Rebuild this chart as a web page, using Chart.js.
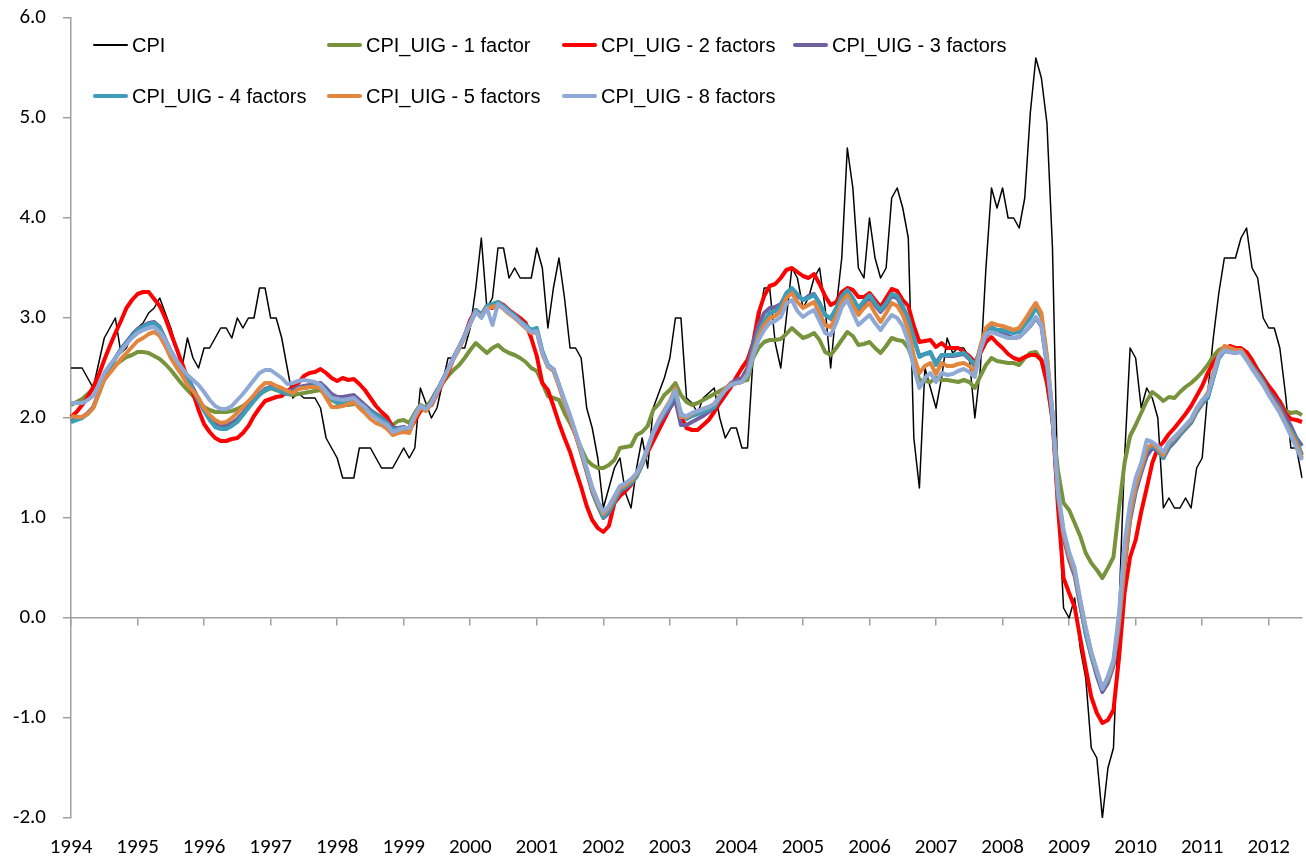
<!DOCTYPE html>
<html>
<head>
<meta charset="utf-8">
<title>CPI and CPI_UIG</title>
<script src="https://cdn.jsdelivr.net/npm/chart.js@4.4.1/dist/chart.umd.min.js"></script>
<style>
  html, body { margin: 0; padding: 0; background: #fff; }
  #wrap { position: relative; width: 1306px; height: 866px; }
  #legend { position: absolute; left: 0; top: 0; font-family: "Liberation Sans", Arial, sans-serif; font-size: 20px; color: #000; }
  .item { position: absolute; height: 24px; display: flex; align-items: center; white-space: nowrap; }
  .swatch { width: 35px; margin-right: 4px; border-radius: 2px; }
</style>
</head>
<body>
<div id="wrap">
  <canvas id="chart" width="1306" height="866"></canvas>
  <div id="legend"></div>
</div>
<script>
// monthly, Jan 1994 - Jul 2012
var years = ['1994', '1995', '1996', '1997', '1998', '1999', '2000', '2001', '2002', '2003',
             '2004', '2005', '2006', '2007', '2008', '2009', '2010', '2011', '2012'];
var monthsLastYear = 7;

var cpi = [
  2.5, 2.5, 2.5, 2.4, 2.3, 2.55, 2.8, 2.9, 3.0, 2.65, 2.7, 2.85,
  2.9, 2.95, 3.05, 3.1, 3.2, 3.05, 2.9, 2.7, 2.5, 2.8, 2.6, 2.5,
  2.7, 2.7, 2.8, 2.9, 2.9, 2.8, 3.0, 2.9, 3.0, 3.0, 3.3, 3.3,
  3.0, 3.0, 2.8, 2.5, 2.2, 2.25, 2.2, 2.2, 2.2, 2.1, 1.8, 1.7,
  1.6, 1.4, 1.4, 1.4, 1.7, 1.7, 1.7, 1.6, 1.5, 1.5, 1.5, 1.6,
  1.7, 1.6, 1.7, 2.3, 2.15, 2.0, 2.1, 2.35, 2.6, 2.6, 2.7, 2.7,
  2.9, 3.3, 3.8, 3.1, 3.2, 3.7, 3.7, 3.4, 3.5, 3.4, 3.4, 3.4,
  3.7, 3.5, 2.9, 3.3, 3.6, 3.2, 2.7, 2.7, 2.6, 2.1, 1.9, 1.6,
  1.1, 1.3, 1.5, 1.6, 1.25, 1.1, 1.5, 1.8, 1.5, 2.1, 2.25, 2.4,
  2.6, 3.0, 3.0, 2.2, 2.15, 2.05, 2.2, 2.25, 2.3, 2.0, 1.8, 1.9,
  1.9, 1.7, 1.7, 2.6, 2.96, 3.3, 3.3, 2.75, 2.5, 3.0, 3.5, 3.4,
  3.1, 3.2, 3.4, 3.5, 3.1, 2.5, 3.1, 3.6, 4.7, 4.3, 3.5, 3.4,
  4.0, 3.6, 3.4, 3.5, 4.2, 4.3, 4.1, 3.8, 1.8, 1.3, 2.5, 2.3,
  2.1, 2.4, 2.8, 2.65, 2.7, 2.7, 2.6, 2.0, 2.5, 3.5, 4.3, 4.1,
  4.3, 4.0, 4.0, 3.9, 4.2, 5.05, 5.6, 5.4, 4.95, 3.7, 1.2, 0.1,
  0.0, 0.2, -0.3, -0.6, -1.3, -1.4, -2.0, -1.5, -1.3, 0.1, 1.6, 2.7,
  2.6, 2.1, 2.3, 2.2, 2.0, 1.1, 1.2, 1.1, 1.1, 1.2, 1.1, 1.5,
  1.6, 2.25, 2.8, 3.25, 3.6, 3.6, 3.6, 3.8, 3.9, 3.5, 3.4, 3.0,
  2.9, 2.9, 2.7, 2.25, 1.7, 1.7, 1.4
];

var uig1 = [
  2.13, 2.16, 2.19, 2.24, 2.29, 2.34, 2.42, 2.47, 2.53, 2.57, 2.61, 2.63,
  2.66, 2.66, 2.65, 2.62, 2.59, 2.54, 2.48, 2.41, 2.34, 2.28, 2.22, 2.16,
  2.11, 2.08, 2.06, 2.06, 2.06, 2.07, 2.09, 2.12, 2.16, 2.20, 2.24, 2.27,
  2.30, 2.28, 2.26, 2.24, 2.23, 2.24, 2.25, 2.26, 2.27, 2.28, 2.22, 2.18,
  2.15, 2.14, 2.13, 2.14, 2.15, 2.11, 2.06, 2.04, 2.01, 1.97, 1.93, 1.97,
  1.98, 1.95, 2.05, 2.13, 2.10, 2.18, 2.28, 2.35, 2.42, 2.48, 2.53, 2.60,
  2.68, 2.75, 2.70, 2.65, 2.70, 2.73, 2.68, 2.65, 2.63, 2.60, 2.56, 2.50,
  2.47, 2.35, 2.22, 2.20, 2.18, 2.05, 1.95, 1.83, 1.70, 1.58, 1.53, 1.50,
  1.50, 1.53, 1.58, 1.70, 1.71, 1.72, 1.83, 1.86, 1.92, 2.08, 2.14, 2.23,
  2.28, 2.35, 2.23, 2.16, 2.13, 2.15, 2.18, 2.21, 2.24, 2.27, 2.30, 2.33,
  2.35, 2.37, 2.38, 2.60, 2.70, 2.76, 2.78, 2.78, 2.79, 2.84, 2.90, 2.85,
  2.80, 2.82, 2.85, 2.78, 2.66, 2.63, 2.70, 2.78, 2.86, 2.82, 2.73, 2.74,
  2.76, 2.70, 2.65, 2.72, 2.80, 2.78, 2.77, 2.70, 2.55, 2.38, 2.37, 2.36,
  2.40, 2.38, 2.38, 2.37, 2.36, 2.38, 2.36, 2.30, 2.42, 2.53, 2.60, 2.57,
  2.56, 2.55, 2.55, 2.53, 2.60, 2.65, 2.66, 2.58, 2.38, 1.97, 1.47, 1.15,
  1.08, 0.95, 0.82, 0.65, 0.55, 0.48, 0.40, 0.50, 0.61, 1.10, 1.55, 1.82,
  1.93, 2.05, 2.17, 2.26, 2.22, 2.17, 2.21, 2.20, 2.26, 2.31, 2.35, 2.40,
  2.46, 2.53, 2.62, 2.68, 2.70, 2.68, 2.66, 2.68, 2.62, 2.56, 2.48, 2.40,
  2.30, 2.22, 2.17, 2.07, 2.05, 2.06, 2.03
];

var uig2 = [
  2.01, 2.06, 2.13, 2.21, 2.31, 2.43, 2.58, 2.72, 2.85, 2.97, 3.10, 3.18,
  3.24, 3.26, 3.26, 3.19, 3.12, 3.00, 2.85, 2.70, 2.55, 2.40, 2.25, 2.08,
  1.94, 1.86, 1.80, 1.77, 1.77, 1.79, 1.80, 1.85, 1.92, 2.02, 2.10, 2.17,
  2.19, 2.21, 2.22, 2.27, 2.31, 2.35, 2.42, 2.45, 2.46, 2.49, 2.45, 2.40,
  2.37, 2.40, 2.38, 2.39, 2.34, 2.28, 2.20, 2.12, 2.06, 2.01, 1.91, 1.86,
  1.86, 1.88, 1.97, 2.07, 2.10, 2.13, 2.24, 2.35, 2.45, 2.60, 2.71, 2.82,
  2.98, 3.08, 3.03, 3.12, 3.10, 3.16, 3.13, 3.08, 3.04, 3.00, 2.95, 2.80,
  2.62, 2.35, 2.28, 2.12, 1.95, 1.80, 1.66, 1.48, 1.31, 1.12, 0.98, 0.90,
  0.86, 0.92, 1.15, 1.22, 1.27, 1.33, 1.43, 1.55, 1.66, 1.77, 1.88, 1.99,
  2.10, 2.20, 2.02, 1.90, 1.88, 1.88, 1.93, 1.98, 2.06, 2.15, 2.23, 2.31,
  2.41, 2.50, 2.58, 2.75, 3.05, 3.22, 3.32, 3.34, 3.40, 3.48, 3.50, 3.46,
  3.42, 3.40, 3.44, 3.34, 3.22, 3.13, 3.16, 3.26, 3.30, 3.28, 3.21, 3.21,
  3.25, 3.18, 3.11, 3.20, 3.29, 3.27, 3.18, 3.12, 2.92, 2.76, 2.77, 2.78,
  2.71, 2.75, 2.70, 2.70, 2.70, 2.66, 2.62, 2.56, 2.65, 2.76, 2.81, 2.75,
  2.70, 2.64, 2.60, 2.58, 2.61, 2.63, 2.63, 2.58, 2.35, 2.00, 1.10, 0.40,
  0.25, 0.11, -0.20, -0.50, -0.79, -0.95, -1.05, -1.02, -0.92, -0.40, 0.25, 0.61,
  0.78, 1.06, 1.30, 1.55, 1.70, 1.76, 1.84, 1.90, 1.97, 2.04, 2.12, 2.22,
  2.32, 2.45, 2.55, 2.63, 2.69, 2.72, 2.70, 2.70, 2.66, 2.58, 2.48, 2.40,
  2.32, 2.25, 2.16, 2.05, 1.99, 1.98, 1.96
];

var uig3 = [
  1.97, 1.99, 2.01, 2.05, 2.11, 2.25, 2.40, 2.50, 2.60, 2.69, 2.76, 2.83,
  2.89, 2.92, 2.95, 2.96, 2.91, 2.79, 2.67, 2.58, 2.49, 2.41, 2.30, 2.19,
  2.10, 2.01, 1.95, 1.93, 1.93, 1.95, 1.99, 2.05, 2.12, 2.18, 2.24, 2.29,
  2.31, 2.31, 2.28, 2.27, 2.28, 2.31, 2.32, 2.33, 2.34, 2.35, 2.30, 2.24,
  2.21, 2.21, 2.22, 2.23, 2.18, 2.13, 2.08, 2.04, 2.00, 1.96, 1.90, 1.90,
  1.91, 1.89, 2.03, 2.12, 2.09, 2.16, 2.27, 2.38, 2.49, 2.61, 2.71, 2.83,
  2.96, 3.08, 3.03, 3.12, 3.13, 3.15, 3.11, 3.06, 3.02, 2.97, 2.92, 2.87,
  2.88, 2.66, 2.53, 2.49, 2.33, 2.16, 2.00, 1.83, 1.65, 1.46, 1.26, 1.12,
  1.00, 1.05, 1.16, 1.26, 1.30, 1.34, 1.42, 1.54, 1.69, 1.84, 1.95, 2.03,
  2.10, 2.18, 1.93, 1.93, 1.96, 1.99, 2.02, 2.06, 2.10, 2.20, 2.29, 2.35,
  2.38, 2.40, 2.50, 2.75, 2.93, 3.05, 3.10, 3.11, 3.14, 3.24, 3.28, 3.22,
  3.18, 3.22, 3.24, 3.15, 3.03, 2.99, 3.09, 3.20, 3.25, 3.18, 3.08, 3.15,
  3.21, 3.13, 3.06, 3.13, 3.22, 3.20, 3.10, 2.98, 2.79, 2.62, 2.64, 2.65,
  2.55, 2.63, 2.62, 2.62, 2.63, 2.64, 2.59, 2.52, 2.68, 2.82, 2.87, 2.85,
  2.84, 2.82, 2.80, 2.81, 2.86, 2.92, 3.00, 2.92, 2.53, 2.00, 1.20, 0.80,
  0.58, 0.42, 0.12, -0.15, -0.38, -0.58, -0.74, -0.65, -0.48, -0.08, 0.50, 0.98,
  1.26, 1.45, 1.62, 1.70, 1.67, 1.60, 1.70, 1.76, 1.83, 1.89, 1.95, 2.06,
  2.14, 2.20, 2.40, 2.60, 2.67, 2.66, 2.65, 2.67, 2.60, 2.52, 2.45, 2.37,
  2.27, 2.20, 2.12, 2.02, 1.92, 1.80, 1.72
];

var uig4 = [
  1.96, 1.98, 2.00, 2.04, 2.10, 2.24, 2.40, 2.50, 2.60, 2.68, 2.75, 2.82,
  2.88, 2.91, 2.94, 2.95, 2.90, 2.78, 2.66, 2.57, 2.48, 2.40, 2.28, 2.17,
  2.07, 1.98, 1.91, 1.89, 1.89, 1.92, 1.96, 2.03, 2.10, 2.17, 2.23, 2.28,
  2.30, 2.29, 2.26, 2.24, 2.25, 2.30, 2.30, 2.31, 2.32, 2.33, 2.27, 2.20,
  2.15, 2.15, 2.16, 2.18, 2.14, 2.10, 2.06, 2.03, 1.99, 1.95, 1.88, 1.89,
  1.90, 1.88, 2.02, 2.11, 2.08, 2.15, 2.26, 2.37, 2.48, 2.60, 2.70, 2.82,
  2.95, 3.08, 3.03, 3.12, 3.14, 3.16, 3.12, 3.07, 3.03, 2.97, 2.93, 2.88,
  2.90, 2.67, 2.53, 2.48, 2.33, 2.16, 2.01, 1.84, 1.66, 1.47, 1.27, 1.13,
  1.01, 1.07, 1.17, 1.28, 1.31, 1.35, 1.41, 1.53, 1.68, 1.85, 1.96, 2.06,
  2.14, 2.25, 2.05, 1.99, 2.02, 2.04, 2.06, 2.08, 2.11, 2.20, 2.28, 2.33,
  2.35, 2.36, 2.45, 2.67, 2.86, 2.97, 3.05, 3.07, 3.12, 3.25, 3.30, 3.24,
  3.18, 3.20, 3.23, 3.14, 3.03, 3.00, 3.10, 3.22, 3.28, 3.20, 3.10, 3.17,
  3.23, 3.15, 3.08, 3.15, 3.24, 3.22, 3.12, 3.00, 2.80, 2.61, 2.64, 2.66,
  2.53, 2.63, 2.63, 2.63, 2.64, 2.65, 2.60, 2.53, 2.70, 2.85, 2.91, 2.88,
  2.88, 2.86, 2.85, 2.86, 2.93, 3.00, 3.10, 3.01, 2.60, 2.05, 1.22, 0.86,
  0.62, 0.45, 0.15, -0.17, -0.38, -0.55, -0.70, -0.62, -0.45, -0.05, 0.55, 1.00,
  1.30, 1.48, 1.68, 1.72, 1.68, 1.60, 1.72, 1.78, 1.84, 1.90, 1.96, 2.07,
  2.15, 2.20, 2.40, 2.60, 2.68, 2.66, 2.66, 2.68, 2.60, 2.52, 2.44, 2.36,
  2.24, 2.16, 2.08, 1.96, 1.88, 1.78, 1.63
];

var uig5 = [
  2.02, 2.01, 2.01, 2.04, 2.10, 2.24, 2.38, 2.45, 2.52, 2.59, 2.65, 2.71,
  2.77, 2.80, 2.84, 2.86, 2.82, 2.72, 2.60, 2.51, 2.43, 2.33, 2.27, 2.20,
  2.10, 2.03, 1.98, 1.95, 1.96, 2.00, 2.05, 2.11, 2.17, 2.23, 2.30, 2.35,
  2.35, 2.32, 2.30, 2.27, 2.25, 2.29, 2.30, 2.31, 2.31, 2.30, 2.20, 2.11,
  2.11, 2.12, 2.14, 2.16, 2.10, 2.05, 1.99, 1.95, 1.93, 1.89, 1.83, 1.85,
  1.86, 1.85, 2.00, 2.10, 2.07, 2.14, 2.25, 2.36, 2.47, 2.59, 2.69, 2.81,
  2.94, 3.06, 3.01, 3.10, 3.11, 3.13, 3.09, 3.04, 3.00, 2.95, 2.90, 2.85,
  2.86, 2.64, 2.51, 2.47, 2.32, 2.15, 2.00, 1.83, 1.66, 1.48, 1.29, 1.15,
  1.04, 1.10, 1.20, 1.30, 1.33, 1.37, 1.44, 1.55, 1.70, 1.86, 1.98, 2.08,
  2.17, 2.30, 2.01, 2.01, 2.04, 2.07, 2.09, 2.11, 2.14, 2.22, 2.29, 2.34,
  2.35, 2.36, 2.44, 2.64, 2.82, 2.93, 3.00, 3.02, 3.07, 3.20, 3.25, 3.16,
  3.10, 3.13, 3.16, 3.05, 2.93, 2.91, 3.02, 3.16, 3.23, 3.13, 3.03, 3.10,
  3.15, 3.05, 2.96, 3.05, 3.15, 3.12, 3.03, 2.88, 2.62, 2.45, 2.52, 2.55,
  2.44, 2.55, 2.52, 2.52, 2.54, 2.55, 2.52, 2.46, 2.72, 2.90, 2.95, 2.93,
  2.92, 2.90, 2.88, 2.90, 2.98, 3.07, 3.15, 3.05, 2.62, 2.05, 1.25, 0.84,
  0.62, 0.47, 0.17, -0.10, -0.34, -0.53, -0.70, -0.60, -0.44, -0.03, 0.55, 1.05,
  1.32, 1.50, 1.70, 1.74, 1.70, 1.63, 1.75, 1.80, 1.86, 1.92, 1.98, 2.09,
  2.17, 2.25, 2.45, 2.63, 2.72, 2.70, 2.68, 2.68, 2.60, 2.50, 2.42, 2.34,
  2.24, 2.15, 2.07, 1.95, 1.85, 1.74, 1.60
];

var uig8 = [
  2.15, 2.15, 2.15, 2.18, 2.22, 2.33, 2.45, 2.53, 2.60, 2.67, 2.74, 2.80,
  2.85, 2.88, 2.90, 2.91, 2.86, 2.78, 2.66, 2.58, 2.50, 2.43, 2.38, 2.33,
  2.26, 2.18, 2.12, 2.09, 2.09, 2.12, 2.18, 2.24, 2.31, 2.38, 2.45, 2.48,
  2.48, 2.44, 2.40, 2.34, 2.35, 2.37, 2.38, 2.37, 2.36, 2.33, 2.26, 2.20,
  2.19, 2.18, 2.19, 2.20, 2.15, 2.11, 2.04, 2.00, 1.96, 1.93, 1.86, 1.88,
  1.90, 1.90, 2.03, 2.12, 2.09, 2.15, 2.26, 2.37, 2.49, 2.60, 2.71, 2.82,
  2.95, 3.06, 3.00, 3.10, 2.93, 3.14, 3.10, 3.05, 3.01, 2.96, 2.91, 2.86,
  2.87, 2.65, 2.52, 2.49, 2.34, 2.18, 2.03, 1.86, 1.69, 1.50, 1.31, 1.17,
  1.06, 1.12, 1.22, 1.32, 1.35, 1.39, 1.45, 1.56, 1.71, 1.86, 1.97, 2.07,
  2.16, 2.28, 2.03, 2.02, 2.05, 2.07, 2.09, 2.11, 2.14, 2.21, 2.28, 2.33,
  2.35, 2.36, 2.43, 2.62, 2.78, 2.88, 2.95, 2.97, 3.01, 3.14, 3.18, 3.07,
  3.01, 3.05, 3.08, 2.97, 2.85, 2.83, 2.95, 3.11, 3.18, 3.05, 2.93, 2.98,
  3.03, 2.95, 2.88, 2.96, 3.03, 3.00, 2.92, 2.76, 2.50, 2.30, 2.40, 2.45,
  2.36, 2.45, 2.43, 2.44, 2.47, 2.49, 2.46, 2.41, 2.68, 2.84, 2.86, 2.84,
  2.82, 2.80, 2.80, 2.81, 2.86, 2.93, 3.01, 2.93, 2.55, 2.05, 1.28, 0.88,
  0.66, 0.50, 0.19, -0.10, -0.34, -0.52, -0.71, -0.58, -0.42, 0.05, 0.75, 1.15,
  1.40, 1.55, 1.78, 1.76, 1.72, 1.66, 1.76, 1.81, 1.87, 1.93, 1.99, 2.10,
  2.18, 2.23, 2.42, 2.62, 2.68, 2.66, 2.65, 2.66, 2.58, 2.49, 2.41, 2.33,
  2.23, 2.14, 2.05, 1.94, 1.82, 1.70, 1.58
];

var seriesNames = ['CPI', 'CPI_UIG - 1 factor', 'CPI_UIG - 2 factors', 'CPI_UIG - 3 factors',
                   'CPI_UIG - 4 factors', 'CPI_UIG - 5 factors', 'CPI_UIG - 8 factors'];
var seriesColors = ['#000000', '#77933C', '#FF0000', '#7160A0', '#3B9DB8', '#E3853C', '#8EA9D6'];
var seriesWidths = [1.5, 4, 4, 4, 4, 4, 4];
var seriesData = [cpi, uig1, uig2, uig3, uig4, uig5, uig8];

// one category per month, year shown on January
var labels = [];
years.forEach(function (y, k) {
  var n = k === years.length - 1 ? monthsLastYear : 12;
  for (var m = 1; m <= n; m++) labels.push(y + '-' + (m < 10 ? '0' + m : m));
});

var axisGrey = '#A0A0A0';
var tickFont = { family: 'Carlito, Lato, sans-serif', size: 21 };

var datasets = seriesData.map(function (d, i) {
  return {
    label: seriesNames[i],
    data: d,
    borderColor: seriesColors[i],
    backgroundColor: seriesColors[i],
    borderWidth: seriesWidths[i],
    pointRadius: 0,
    tension: 0,
    fill: false,
    borderJoinStyle: 'round',
    xAxisID: 'x',
    order: seriesData.length - i   // later series drawn on top
  };
});

new Chart(document.getElementById('chart'), {
  type: 'line',
  data: { labels: labels, datasets: datasets },
  options: {
    responsive: false,
    animation: false,
    devicePixelRatio: 1,
    layout: { padding: { top: 18, right: 4, left: 0, bottom: 0 } },
    plugins: { legend: { display: false }, tooltip: { enabled: false } },
    scales: {
      // axis line crossing at zero, with a tick mark at each January
      x: {
        type: 'category',
        position: { y: 0 },
        offset: false,
        ticks: { display: false, autoSkip: false },
        grid: {
          drawOnChartArea: false,
          drawTicks: true,
          tickLength: 7,
          lineWidth: 1.5,
          color: function (ctx) { return ctx.index % 12 === 0 ? axisGrey : 'rgba(0,0,0,0)'; }
        },
        border: { display: true, color: axisGrey, width: 1.5 }
      },
      // year labels along the bottom edge
      x2: {
        type: 'category',
        position: 'bottom',
        offset: false,
        grid: { display: false, drawTicks: false },
        border: { display: false },
        ticks: {
          autoSkip: false,
          maxRotation: 0,
          minRotation: 0,
          padding: 17,
          color: '#000',
          font: tickFont,
          callback: function (v, i) { return i % 12 === 0 ? this.getLabelForValue(v).slice(0, 4) : ''; }
        },
        afterFit: function (scale) {
          scale.height = 48;
          scale.paddingLeft = 0;
          scale.paddingRight = 0;
        }
      },
      y: {
        min: -2,
        max: 6,
        ticks: {
          stepSize: 1,
          padding: 17,
          color: '#000',
          font: tickFont,
          callback: function (v) { return v.toFixed(1); }
        },
        grid: { drawOnChartArea: false, drawTicks: true, tickLength: 8, color: axisGrey, lineWidth: 1.5 },
        border: { display: true, color: axisGrey, width: 1.5 },
        afterFit: function (scale) {
          scale.width = 71;
          scale.paddingTop = 0;
          scale.paddingBottom = 0;
        }
      }
    }
  }
});

// legend: two rows, four fixed columns
var legendCols = [93, 327, 562, 793];
var legendRows = [33, 84];
var legend = document.getElementById('legend');
seriesNames.forEach(function (name, i) {
  var item = document.createElement('div');
  item.className = 'item';
  item.style.left = legendCols[i % 4] + 'px';
  item.style.top = legendRows[Math.floor(i / 4)] + 'px';
  var sw = document.createElement('span');
  sw.className = 'swatch';
  sw.style.height = Math.max(seriesWidths[i], 1.5) + 'px';
  sw.style.background = seriesColors[i];
  var tx = document.createElement('span');
  tx.textContent = name;
  item.appendChild(sw);
  item.appendChild(tx);
  legend.appendChild(item);
});
</script>
</body>
</html>
